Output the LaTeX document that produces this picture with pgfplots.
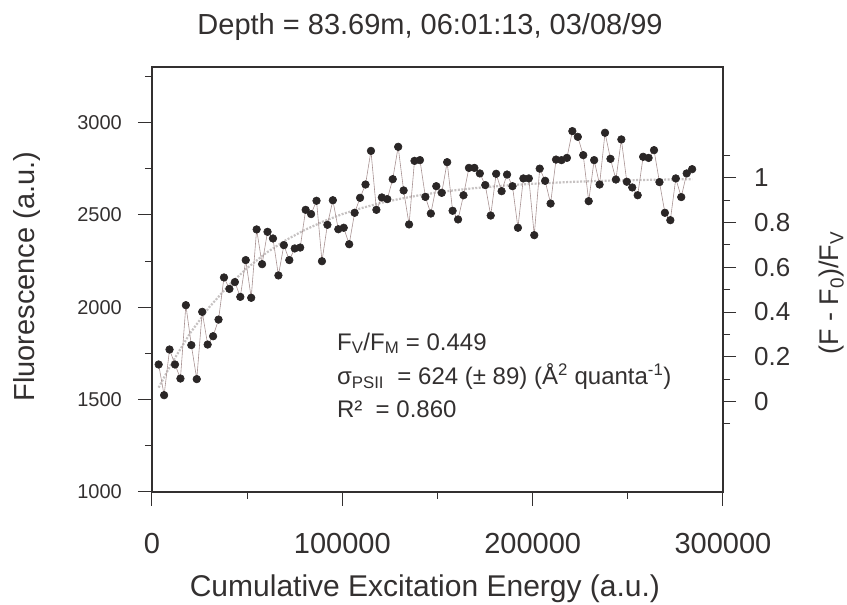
\documentclass[border=0pt]{standalone}
\usepackage{fontspec}
\setmainfont{Liberation Sans}
\usepackage{pgfplots}
\pgfplotsset{compat=1.18}
\definecolor{ink}{HTML}{333030}
\definecolor{conn}{HTML}{A89292}
\definecolor{fitc}{HTML}{C6C2C2}
\definecolor{dotc}{HTML}{2A2626}

\pgfplotstableread{
x y
3500 1690
6360 1524
9220 1771
12080 1690
14940 1614
17800 2011
20660 1795
23520 1611
26380 1975
29240 1798
32100 1843
34960 1933
37820 2161
40680 2099
43540 2136
46400 2056
49260 2255
52120 2051
54980 2421
57840 2233
60700 2408
63560 2372
66420 2172
69280 2336
72140 2255
75000 2318
77860 2323
80720 2527
83580 2504
86440 2576
89300 2249
92160 2446
95020 2579
97880 2422
100740 2430
103600 2341
106460 2511
109320 2592
112180 2664
115040 2846
117900 2527
120760 2594
123620 2585
126480 2693
129340 2868
132200 2632
135060 2448
137920 2792
140780 2796
143640 2597
146500 2507
149360 2655
152220 2619
155080 2785
157940 2522
160800 2475
163660 2606
166520 2754
169380 2754
172240 2724
175100 2661
177960 2496
180820 2722
183680 2628
186540 2718
189400 2655
192260 2430
195120 2697
197980 2697
200840 2390
203700 2750
206560 2684
209420 2561
212280 2799
215140 2796
218000 2808
220860 2953
223720 2922
226580 2823
229440 2574
232300 2796
235160 2664
238020 2944
240880 2803
243740 2691
246600 2908
249460 2679
252320 2648
255180 2606
258040 2814
260900 2808
263760 2850
266620 2677
269480 2511
272340 2471
275200 2697
278060 2596
280920 2724
283780 2747
}\datatable

\pgfplotstableread{
x y
3500 1565
10000 1691
20000 1859
30000 1999
40000 2115
50000 2212
60000 2294
70000 2361
80000 2417
90000 2464
100000 2504
110000 2536
120000 2564
130000 2586
140000 2605
150000 2621
160000 2634
170000 2645
180000 2654
190000 2662
200000 2668
220000 2678
240000 2685
260000 2689
283780 2693
}\fittable

\begin{document}
\begin{tikzpicture}
\useasboundingbox (-152pt,-113pt) rectangle (695pt,492pt);
\begin{axis}[
  at={(0,0)}, anchor=south west,
  scale only axis, width=571pt, height=425pt,
  xmin=0, xmax=300000, ymin=1000, ymax=3300,
  scaled x ticks=false, scaled y ticks=false,
  xtick={0,100000,200000,300000},
  xticklabels={0,100000,200000,300000},
  minor xtick={50000,150000,250000},
  ytick={1000,1500,2000,2500,3000},
  yticklabels={1000,1500,2000,2500,3000},
  minor ytick={1250,1750,2250,2750,3250},
  xtick pos=left, ytick pos=left,
  tick align=outside,
  major tick length=14pt, minor tick length=7pt,
  /pgf/number format/assume math mode=true,
  axis line style={ink, line width=1.3pt},
  tick style={ink, line width=1pt},
  xticklabel style={font=\fontsize{29}{29}\selectfont, text=ink, anchor=north, inner sep=0pt, yshift=-27pt},
  yticklabel style={font=\fontsize{20}{20}\selectfont, text=ink, anchor=east, inner sep=0pt, xshift=-16pt},
  title={Depth = 83.69m, 06:01:13, 03/08/99},
  title style={at={(0.487,1.062)}, anchor=base, font=\fontsize{29}{29}\selectfont, text=ink},
  xlabel={Cumulative Excitation Energy (a.u.)},
  xlabel style={at={(0.478,-0.247)}, anchor=base, font=\fontsize{30}{30}\selectfont, text=ink},
  ylabel={Fluorescence (a.u.)},
  ylabel style={at={(-0.205,0.507)}, anchor=base, font=\fontsize{29}{29}\selectfont, text=ink},
]
\addplot[fitc, line width=2.2pt, dash pattern=on 2pt off 1.5pt] table[x=x,y=y] {\fittable};
\addplot[conn, line width=0.6pt, mark=*, mark size=3.8pt, mark options={fill=dotc, draw=dotc, solid}] table[x=x,y=y] {\datatable};
\node[anchor=base west, font=\fontsize{24}{24}\selectfont, text=ink] at (axis description cs:0.318,0.334) {F\textsubscript{V}/F\textsubscript{M} = 0.449};
\node[anchor=base west, font=\fontsize{24}{24}\selectfont, text=ink] at (axis description cs:0.318,0.252) {σ\textsubscript{PSII}\ \ = 624 (± 89) (Å\textsuperscript{2} quanta\textsuperscript{-1})};
\node[anchor=base west, font=\fontsize{24}{24}\selectfont, text=ink] at (axis description cs:0.318,0.176) {R²\ \ = 0.860};
\end{axis}
\begin{axis}[
  at={(0,0)}, anchor=south west,
  scale only axis, width=571pt, height=425pt,
  xmin=0, xmax=300000, ymin=-0.40496, ymax=1.49587,
  hide x axis, axis y line*=right, clip=false,
  ytick={0,0.2,0.4,0.6,0.8,1},
  yticklabels={0,0.2,0.4,0.6,0.8,1},
  minor ytick={-0.1,0.1,0.3,0.5,0.7,0.9,1.1},
  tick align=outside,
  major tick length=13pt, minor tick length=7pt,
  /pgf/number format/assume math mode=true,
  axis line style={ink, line width=1.3pt},
  tick style={ink, line width=1pt},
  yticklabel style={font=\fontsize{26}{26}\selectfont, text=ink, anchor=west, inner sep=0pt, xshift=18pt},
  ylabel={(F - F\textsubscript{0})/F\textsubscript{V}},
  ylabel style={at={(1.203,0.468)}, anchor=base, rotate=0, font=\fontsize{27}{27}\selectfont, text=ink},
]
\end{axis}
\end{tikzpicture}
\end{document}
